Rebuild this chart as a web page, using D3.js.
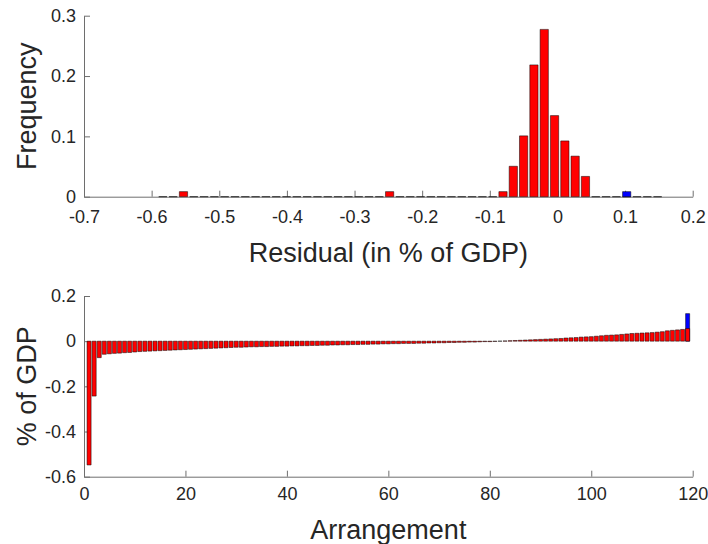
<!DOCTYPE html>
<html><head><meta charset="utf-8">
<script src="https://cdn.jsdelivr.net/npm/d3@7/dist/d3.min.js"></script>
<style>
body{margin:0;background:#fff}
svg{display:block}
text{font-family:"Liberation Sans",Arial,Helvetica,sans-serif;fill:#262626}
</style></head><body>
<script>
// ---------------- DATA ----------------
// Histogram (top): bin layout and counts (frequency = count / total)
const histFirstBinCenter = -0.5834;
const histBinWidth = 0.01524;
const histRedCounts = [0,0,1,0,0,0,0,0,0,0,0,0,0,0,0,0,0,0,0,0,0,0,1,0,0,0,0,0,0,0,0,0,0,1,6,12,26,33,16,11,8,4,0,0,0,0,0,0,0];
const histBlueCounts = [0,0,0,0,0,0,0,0,0,0,0,0,0,0,0,0,0,0,0,0,0,0,0,0,0,0,0,0,0,0,0,0,0,0,0,0,0,0,0,0,0,0,0,0,0,1,0,0,0];
const histTotal = 119;

// Sorted residuals (bottom), arrangement 1..119
const residuals = [
 -0.548,-0.243,-0.073,-0.058,-0.056,-0.054,-0.053,-0.051,-0.050,-0.048,
 -0.046,-0.045,-0.044,-0.043,-0.042,-0.041,-0.040,-0.039,-0.038,-0.037,
 -0.036,-0.035,-0.034,-0.033,-0.032,-0.031,-0.030,-0.029,-0.028,-0.027,
 -0.027,-0.026,-0.025,-0.025,-0.024,-0.024,-0.023,-0.023,-0.022,-0.022,
 -0.021,-0.021,-0.020,-0.020,-0.019,-0.019,-0.018,-0.018,-0.017,-0.017,
 -0.016,-0.016,-0.015,-0.015,-0.014,-0.014,-0.013,-0.013,-0.012,-0.012,
 -0.011,-0.011,-0.010,-0.010,-0.010,-0.009,-0.009,-0.008,-0.008,-0.007,
 -0.007,-0.006,-0.006,-0.005,-0.005,-0.004,-0.004,-0.003,-0.002,-0.002,
 -0.001,0.000,0.001,0.002,0.003,0.004,0.005,0.006,0.007,0.008,
  0.009,0.010,0.011,0.012,0.014,0.015,0.016,0.018,0.019,0.020,
  0.022,0.024,0.026,0.027,0.028,0.030,0.032,0.034,0.035,0.036,
  0.037,0.038,0.040,0.042,0.046,0.048,0.050,0.052,0.056
];
const blueArrangement = [119];
const blueValues = [0.122];

// Axis ticks
const topXTicks = [-0.7,-0.6,-0.5,-0.4,-0.3,-0.2,-0.1,0,0.1,0.2];
const topXTickLabels = ["-0.7","-0.6","-0.5","-0.4","-0.3","-0.2","-0.1","0","0.1","0.2"];
const topYTicks = [0,0.1,0.2,0.3];
const topYTickLabels = ["0","0.1","0.2","0.3"];
const botXTicks = [0,20,40,60,80,100,120];
const botXTickLabels = ["0","20","40","60","80","100","120"];
const botYTicks = [-0.6,-0.4,-0.2,0,0.2];
const botYTickLabels = ["-0.6","-0.4","-0.2","0","0.2"];

// ---------------- CHART ----------------
const W = 708, H = 544;
const RED = "#ff0000", BLUE = "#0000ff", EDGE = "#000000";
const AXIS = "#6e6e6e";
const svg = d3.select("body").append("svg").attr("width", W).attr("height", H);

function styleAxis(g){
  g.select(".domain").attr("stroke", AXIS).attr("stroke-width", 1);
  g.selectAll(".tick line").attr("stroke", AXIS).attr("stroke-width", 1);
  g.selectAll(".tick text").style("font-size","18px").attr("fill","#262626");
}
function barPath(x0, x1, y0, y1){
  return `M${x0},${y0}H${x1}V${y1}H${x0}Z`;
}

// ---- top: histogram ----
const xTop = d3.scaleLinear().domain([-0.7, 0.2]).range([84, 692.7]);
const yTop = d3.scaleLinear().domain([0, 0.3]).range([196.7, 15.7]);

svg.append("g").attr("transform", `translate(0,${yTop(0)})`)
  .call(d3.axisBottom(xTop).tickValues(topXTicks).tickFormat((d,i) => topXTickLabels[i])
    .tickSizeInner(-6).tickSizeOuter(0).tickPadding(14))
  .call(styleAxis);
svg.append("g").attr("transform", `translate(${xTop(-0.7)},0)`)
  .call(d3.axisLeft(yTop).tickValues(topYTicks).tickFormat((d,i) => topYTickLabels[i])
    .tickSizeInner(-6).tickSizeOuter(0).tickPadding(8))
  .call(styleAxis);

const histData = histRedCounts.map((c, i) => ({
  center: histFirstBinCenter + i * histBinWidth,
  red: c / histTotal,
  blue: histBlueCounts[i] / histTotal
}));

const gTop = svg.append("g");
gTop.selectAll("path.red").data(histData).join("path")
  .attr("class","red")
  .attr("d", d => barPath(xTop(d.center - 0.4 * histBinWidth), xTop(d.center + 0.4 * histBinWidth), yTop(0), yTop(d.red)))
  .attr("fill", RED).attr("stroke", EDGE).attr("stroke-width", 0.5);
gTop.selectAll("path.blue").data(histData.filter(d => d.blue > 0)).join("path")
  .attr("class","blue")
  .attr("d", d => barPath(xTop(d.center - 0.4 * histBinWidth), xTop(d.center + 0.4 * histBinWidth), yTop(0), yTop(d.blue)))
  .attr("fill", BLUE).attr("stroke", EDGE).attr("stroke-width", 0.5);

svg.append("text").attr("x", (xTop.range()[0] + xTop.range()[1]) / 2).attr("y", 261.5)
  .attr("text-anchor","middle").style("font-size","27px").text("Residual (in % of GDP)");
svg.append("text").attr("transform", `translate(36,${(yTop.range()[0] + yTop.range()[1]) / 2}) rotate(-90)`)
  .attr("text-anchor","middle").style("font-size","27px").text("Frequency");

// ---- bottom: sorted residual bars ----
const xBot = d3.scaleLinear().domain([0, 120]).range([84, 692.7]);
const yBot = d3.scaleLinear().domain([-0.6, 0.2]).range([476.7, 296]);
const bw = xBot(0.8) - xBot(0);

svg.append("g").attr("transform", `translate(0,${yBot(-0.6)})`)
  .call(d3.axisBottom(xBot).tickValues(botXTicks).tickFormat((d,i) => botXTickLabels[i])
    .tickSizeInner(-6).tickSizeOuter(0).tickPadding(11))
  .call(styleAxis);
svg.append("g").attr("transform", `translate(${xBot(0)},0)`)
  .call(d3.axisLeft(yBot).tickValues(botYTicks).tickFormat((d,i) => botYTickLabels[i])
    .tickSizeInner(-6).tickSizeOuter(0).tickPadding(8))
  .call(styleAxis);

const gBot = svg.append("g");
gBot.selectAll("path.blue").data(blueArrangement.map((a, i) => ({a, v: blueValues[i]}))).join("path")
  .attr("class","blue")
  .attr("d", d => barPath(xBot(d.a) - bw / 2, xBot(d.a) + bw / 2, yBot(0), yBot(d.v)))
  .attr("fill", BLUE).attr("stroke", EDGE).attr("stroke-width", 0.5);
gBot.selectAll("path.red").data(residuals.map((v, i) => ({a: i + 1, v}))).join("path")
  .attr("class","red")
  .attr("d", d => barPath(xBot(d.a) - bw / 2, xBot(d.a) + bw / 2, yBot(0), yBot(d.v)))
  .attr("fill", RED).attr("stroke", EDGE).attr("stroke-width", 0.5);

svg.append("text").attr("x", (xBot.range()[0] + xBot.range()[1]) / 2).attr("y", 539)
  .attr("text-anchor","middle").style("font-size","27px").text("Arrangement");
svg.append("text").attr("transform", `translate(36,${(yBot.range()[0] + yBot.range()[1]) / 2}) rotate(-90)`)
  .attr("text-anchor","middle").style("font-size","27px").text("% of GDP");
</script>
</body></html>
